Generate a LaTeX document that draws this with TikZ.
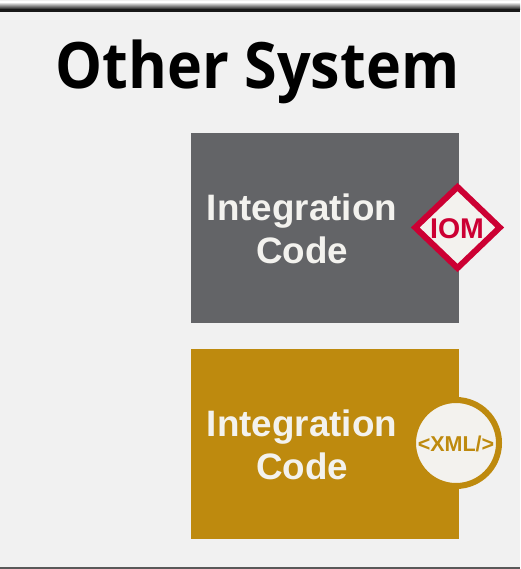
\documentclass[tikz,border=0pt]{standalone}
\usepackage{fontspec}
\setmainfont{Liberation Sans}
\newfontfamily\titlefont{Open Sans}
\definecolor{bgc}{HTML}{F1F1F1}
\definecolor{slatec}{HTML}{636467}
\definecolor{goldc}{HTML}{BE8A0E}
\definecolor{redc}{HTML}{CC0033}
\definecolor{creamc}{HTML}{F3F2EE}
\tikzset{
  x=1pt,y=-1pt,
  codebox/.style={draw=none,minimum width=268pt,minimum height=190pt,inner sep=0pt},
  codelabel/.style={text=creamc,font=\fontsize{36.8}{43}\selectfont\bfseries,align=center,inner sep=0pt},
  title/.style={font=\titlefont\bfseries\fontsize{64}{70}\selectfont,inner sep=0pt,text=black,xscale=.925},
}
\begin{document}
\begin{tikzpicture}
\useasboundingbox (0,0) rectangle (520,569);
\fill[bgc] (0,0) rectangle (520,569);
\shade[top color=white,bottom color=black] (0,2) rectangle (520,10);
\fill[black!90] (0,9.5) rectangle (520,12);
\fill[black!65] (0,566.5) rectangle (520,569);
\node[title,anchor=base] (t) at (257.5,89) {Other System};
\node[codebox,fill=slatec] (a) at (325,228) {};
\node[codebox,fill=goldc] (b) at (325,444) {};
\node[codelabel] (al) at (302,229) {Integration\\Code};
\node[codelabel] (bl) at (302,445) {Integration\\Code};
\coordinate (dc) at (457.5,227.5);
\fill[creamc,draw=redc,line width=6pt,miter limit=10]
  (457.5,187) -- (499.75,227.5) -- (457.5,268) -- (415.25,227.5) -- cycle;
\node[text=redc,font=\fontsize{28.5}{32}\selectfont\bfseries,inner sep=0pt,anchor=base] (iom) at (457,238) {IOM};
\node[circle,fill=creamc,draw=goldc,line width=6pt,minimum size=86pt,inner sep=0pt] (x) at (456,443) {};
\node[text=goldc,font=\fontsize{21.5}{24}\selectfont\bfseries,inner sep=0pt,anchor=base] (xl) at (456,451.7) {<XML/>};
\end{tikzpicture}
\end{document}
